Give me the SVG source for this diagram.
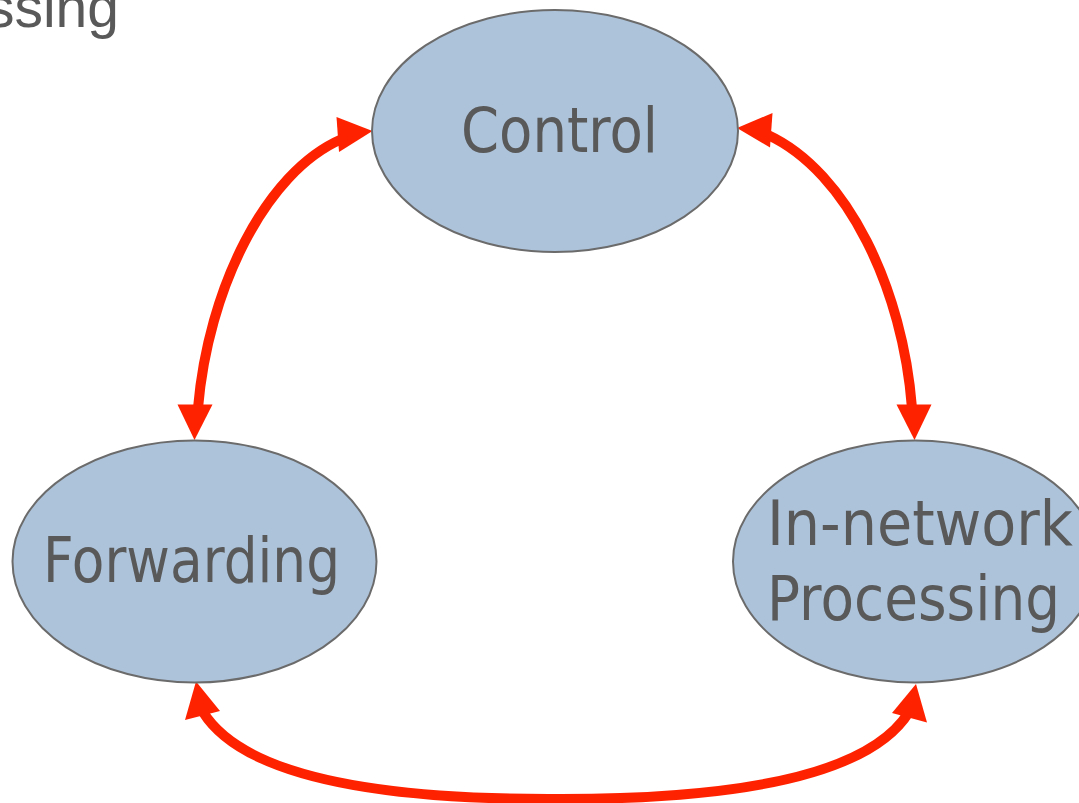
<svg xmlns="http://www.w3.org/2000/svg" width="1079" height="803" viewBox="0 0 1079 803">
<style>
.node{fill:#adc3da;stroke:#6b6b6b;stroke-width:2}
.lbl{font-family:"DejaVu Sans","Liberation Sans",sans-serif;font-size:62px;fill:#595959}
.shaft{fill:none;stroke:#ff2200;stroke-width:10}
.head{fill:#ff2200}
</style>
<rect width="1079" height="803" fill="#ffffff"/>
<text x="119" y="27" font-family="Liberation Sans, Arial, sans-serif" font-size="57" fill="#595959" text-anchor="end">Processing</text>
<g id="connectors">
<path class="shaft" d="M 342,139 C 265,172 208,290 198,408"/>
<polygon class="head" points="372.5,131 336.5,117 339,152"/>
<polygon class="head" points="194.5,440 177.5,404.5 212.5,404.5"/>
<path class="shaft" d="M 768,135 C 848,172 903,290 912,408"/>
<polygon class="head" points="737,128 772.5,113 770,147.5"/>
<polygon class="head" points="914.5,440 896.5,404.5 931.5,404.5"/>
<path class="shaft" d="M 203,712 Q 258,800 555,799 Q 854,800 909,712"/>
<polygon class="head" points="196,681.5 185,720 220,711"/>
<polygon class="head" points="916,684 892,713 927,722.5"/>
</g>
<g id="control">
<ellipse class="node" cx="555" cy="131" rx="183" ry="121"/>
<text class="lbl" x="461" y="152" textLength="197" lengthAdjust="spacingAndGlyphs">Control</text>
</g>
<g id="forwarding">
<ellipse class="node" cx="194.5" cy="561.5" rx="182" ry="121"/>
<text class="lbl" x="43" y="582" textLength="297" lengthAdjust="spacingAndGlyphs">Forwarding</text>
</g>
<g id="innetwork">
<ellipse class="node" cx="915" cy="561.5" rx="182" ry="121"/>
<text class="lbl" x="767" y="545" textLength="306" lengthAdjust="spacingAndGlyphs">In-network</text>
<text class="lbl" x="767" y="620" textLength="293" lengthAdjust="spacingAndGlyphs">Processing</text>
</g>
</svg>
